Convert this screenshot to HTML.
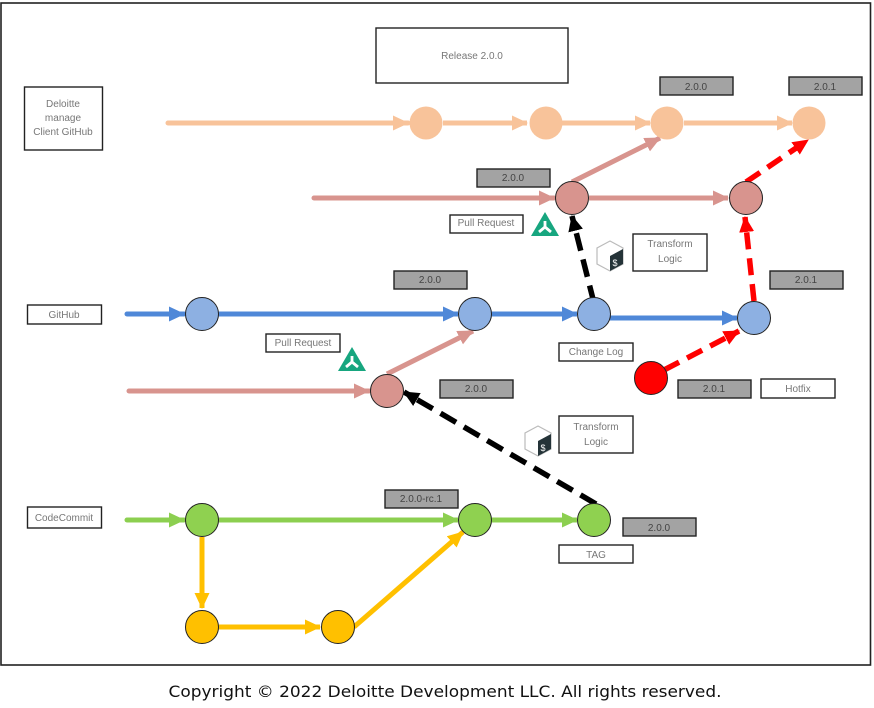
<!DOCTYPE html>
<html><head><meta charset="utf-8"><style>
html,body{margin:0;padding:0;background:#fff}
svg{display:block}
text{font-family:"Liberation Sans",sans-serif;font-size:10px;fill:#777;text-anchor:middle}
.b{fill:#fff;stroke:#222;stroke-width:1.4}
.g{fill:#a3a3a3;stroke:#222;stroke-width:1.4}
.gt{fill:#444}
.c{stroke:#222;stroke-width:1}
.l{fill:none;stroke-width:5}
.art{filter:blur(0.35px)}
</style></head><body>
<svg width="874" height="708" viewBox="0 0 874 708" xmlns="http://www.w3.org/2000/svg">
<defs>
<marker id="aO" markerUnits="userSpaceOnUse" markerWidth="18" markerHeight="18" refX="15" refY="9" orient="auto"><path d="M0 1.500L16 9L0 16.500Z" fill="#f8c39a"/></marker>
<marker id="aP" markerUnits="userSpaceOnUse" markerWidth="18" markerHeight="18" refX="15" refY="9" orient="auto"><path d="M0 1.500L16 9L0 16.500Z" fill="#d8948e"/></marker>
<marker id="aB" markerUnits="userSpaceOnUse" markerWidth="18" markerHeight="18" refX="15" refY="9" orient="auto"><path d="M0 1.500L16 9L0 16.500Z" fill="#4f88d8"/></marker>
<marker id="aG" markerUnits="userSpaceOnUse" markerWidth="18" markerHeight="18" refX="15" refY="9" orient="auto"><path d="M0 1.500L16 9L0 16.500Z" fill="#8ccf50"/></marker>
<marker id="aY" markerUnits="userSpaceOnUse" markerWidth="18" markerHeight="18" refX="15" refY="9" orient="auto"><path d="M0 1.500L16 9L0 16.500Z" fill="#ffc000"/></marker>
<marker id="aR" markerUnits="userSpaceOnUse" markerWidth="18" markerHeight="18" refX="15" refY="9" orient="auto"><path d="M0 1.500L16 9L0 16.500Z" fill="#f00"/></marker>
<marker id="aK" markerUnits="userSpaceOnUse" markerWidth="18" markerHeight="18" refX="15" refY="9" orient="auto"><path d="M0 1.500L16 9L0 16.500Z" fill="#000"/></marker>
<g id="tri"><path d="M0 -13L14 11H-14Z" fill="#17a67f"/><path d="M0 -4V2M0 2L-6 7M0 2L6 7" stroke="#fff" stroke-width="2.8" fill="none"/></g>
<g id="hex"><path d="M0 -15L13 -8V8L0 15L-13 8V-8Z" fill="#fff" stroke="#bbb" stroke-width="1.2"/><path d="M0 0L13 -7V8L0 15Z" fill="#243338"/><text x="5" y="10" style="fill:#fff;font-size:9px">$</text></g>
</defs>

<g class="art">
<rect x="1" y="3" width="869.5" height="662" fill="#fff" stroke="#222" stroke-width="1.6"/>

<!-- Lines -->
<path class="l" stroke="#f8c39a" stroke-linecap="round" d="M168 123H408" marker-end="url(#aO)"/>
<path class="l" stroke="#f8c39a" d="M443 123H527" marker-end="url(#aO)"/>
<path class="l" stroke="#f8c39a" d="M562 123H650" marker-end="url(#aO)"/>
<path class="l" stroke="#f8c39a" d="M684 123H792" marker-end="url(#aO)"/>

<path class="l" stroke="#d8948e" stroke-linecap="round" d="M314 198H554" marker-end="url(#aP)"/>
<path class="l" stroke="#d8948e" d="M589 198H728" marker-end="url(#aP)"/>
<path class="l" stroke="#d8948e" d="M572 182L660 138" marker-end="url(#aP)"/>
<path class="l" stroke="#d8948e" stroke-linecap="round" d="M129 391H369" marker-end="url(#aP)"/>
<path class="l" stroke="#d8948e" d="M387 374L473 331" marker-end="url(#aP)"/>

<path class="l" stroke="#4f88d8" stroke-linecap="round" d="M127 314H184" marker-end="url(#aB)"/>
<path class="l" stroke="#4f88d8" d="M218 314H458" marker-end="url(#aB)"/>
<path class="l" stroke="#4f88d8" d="M491 314H577" marker-end="url(#aB)"/>
<path class="l" stroke="#4f88d8" d="M610 318H737" marker-end="url(#aB)"/>

<path class="l" stroke="#8ccf50" stroke-linecap="round" d="M127 520H184" marker-end="url(#aG)"/>
<path class="l" stroke="#8ccf50" d="M218 520H458" marker-end="url(#aG)"/>
<path class="l" stroke="#8ccf50" d="M491 520H577" marker-end="url(#aG)"/>

<path class="l" stroke="#ffc000" d="M202 537V608" marker-end="url(#aY)"/>
<path class="l" stroke="#ffc000" d="M218 627H320" marker-end="url(#aY)"/>
<path class="l" stroke="#ffc000" d="M354 627L463 532" marker-end="url(#aY)"/>

<path class="l" stroke="#f00" stroke-dasharray="17 9" style="stroke-width:5.5" d="M664 370L739 331" marker-end="url(#aR)"/>
<path class="l" stroke="#f00" stroke-dasharray="17 9" style="stroke-width:5.5" d="M754 301L745 217" marker-end="url(#aR)"/>
<path class="l" stroke="#f00" stroke-dasharray="17 9" style="stroke-width:5.5" d="M746 182L808 140" marker-end="url(#aR)"/>

<path class="l" stroke="#000" stroke-dasharray="18 9" style="stroke-width:5.5" d="M594 303L572 216" marker-end="url(#aK)"/>
<path class="l" stroke="#000" stroke-dasharray="18 9" style="stroke-width:5.5" d="M596 504L404 392" marker-end="url(#aK)"/>

<!-- Circles -->
<g class="c">
<circle cx="426" cy="123" r="16.5" fill="#f8c39a" stroke="none"/>
<circle cx="546" cy="123" r="16.5" fill="#f8c39a" stroke="none"/>
<circle cx="667" cy="123" r="16.5" fill="#f8c39a" stroke="none"/>
<circle cx="809" cy="123" r="16.5" fill="#f8c39a" stroke="none"/>
<circle cx="572" cy="198" r="16.5" fill="#d8948e"/>
<circle cx="746" cy="198" r="16.5" fill="#d8948e"/>
<circle cx="387" cy="391" r="16.5" fill="#d8948e"/>
<circle cx="202" cy="314" r="16.5" fill="#8db0e2"/>
<circle cx="475" cy="314" r="16.5" fill="#8db0e2"/>
<circle cx="594" cy="314" r="16.5" fill="#8db0e2"/>
<circle cx="754" cy="318" r="16.5" fill="#8db0e2"/>
<circle cx="651" cy="378" r="16.5" fill="#f00"/>
<circle cx="202" cy="520" r="16.5" fill="#8fd150"/>
<circle cx="475" cy="520" r="16.5" fill="#8fd150"/>
<circle cx="594" cy="520" r="16.5" fill="#8fd150"/>
<circle cx="202" cy="627" r="16.5" fill="#ffc000"/>
<circle cx="338" cy="627" r="16.5" fill="#ffc000"/>
</g>

<!-- Boxes -->
<rect class="b" x="376" y="28" width="192" height="55"/><text x="472" y="59">Release 2.0.0</text>
<rect class="b" x="24.500" y="87" width="78" height="63"/><text x="63" y="107">Deloitte</text><text x="63" y="121">manage</text><text x="63" y="135">Client GitHub</text>
<rect class="b" x="27.500" y="305" width="74" height="19"/><text x="64" y="318">GitHub</text>
<rect class="b" x="27.500" y="507" width="74" height="21"/><text x="64" y="521">CodeCommit</text>
<rect class="b" x="450" y="215" width="73" height="18"/><text x="486" y="226">Pull Request</text>
<rect class="b" x="266" y="334" width="74" height="18"/><text x="303" y="346">Pull Request</text>
<rect class="b" x="633" y="234" width="74" height="37"/><text x="670" y="247">Transform</text><text x="670" y="262">Logic</text>
<rect class="b" x="559" y="416" width="74" height="37"/><text x="596" y="430">Transform</text><text x="596" y="445">Logic</text>
<rect class="b" x="559" y="343" width="74" height="18"/><text x="596" y="355">Change Log</text>
<rect class="b" x="559" y="545" width="74" height="18"/><text x="596" y="558">TAG</text>
<rect class="b" x="761" y="379" width="74" height="19"/><text x="798" y="392">Hotfix</text>

<rect class="g" x="660" y="77" width="73" height="18"/><text class="gt" x="696" y="90">2.0.0</text>
<rect class="g" x="789" y="77" width="73" height="18"/><text class="gt" x="825" y="90">2.0.1</text>
<rect class="g" x="477" y="169" width="73" height="18"/><text class="gt" x="513" y="181">2.0.0</text>
<rect class="g" x="394" y="271" width="73" height="18"/><text class="gt" x="430" y="283">2.0.0</text>
<rect class="g" x="770" y="271" width="73" height="18"/><text class="gt" x="806" y="283">2.0.1</text>
<rect class="g" x="440" y="380" width="73" height="18"/><text class="gt" x="476" y="392">2.0.0</text>
<rect class="g" x="678" y="380" width="73" height="18"/><text class="gt" x="714" y="392">2.0.1</text>
<rect class="g" x="385" y="490" width="73" height="18"/><text class="gt" x="421" y="502">2.0.0-rc.1</text>
<rect class="g" x="623" y="518" width="73" height="18"/><text class="gt" x="659" y="531">2.0.0</text>

<use href="#tri" x="545" y="225"/>
<use href="#tri" x="352" y="360"/>
<use href="#hex" x="610" y="256"/>
<use href="#hex" x="538" y="441"/>
</g>

<text x="445" y="697" textLength="553" lengthAdjust="spacingAndGlyphs" style="font-family:'DejaVu Sans',sans-serif;font-size:16px;fill:#111">Copyright © 2022 Deloitte Development LLC. All rights reserved.</text>
</svg>
</body></html>
